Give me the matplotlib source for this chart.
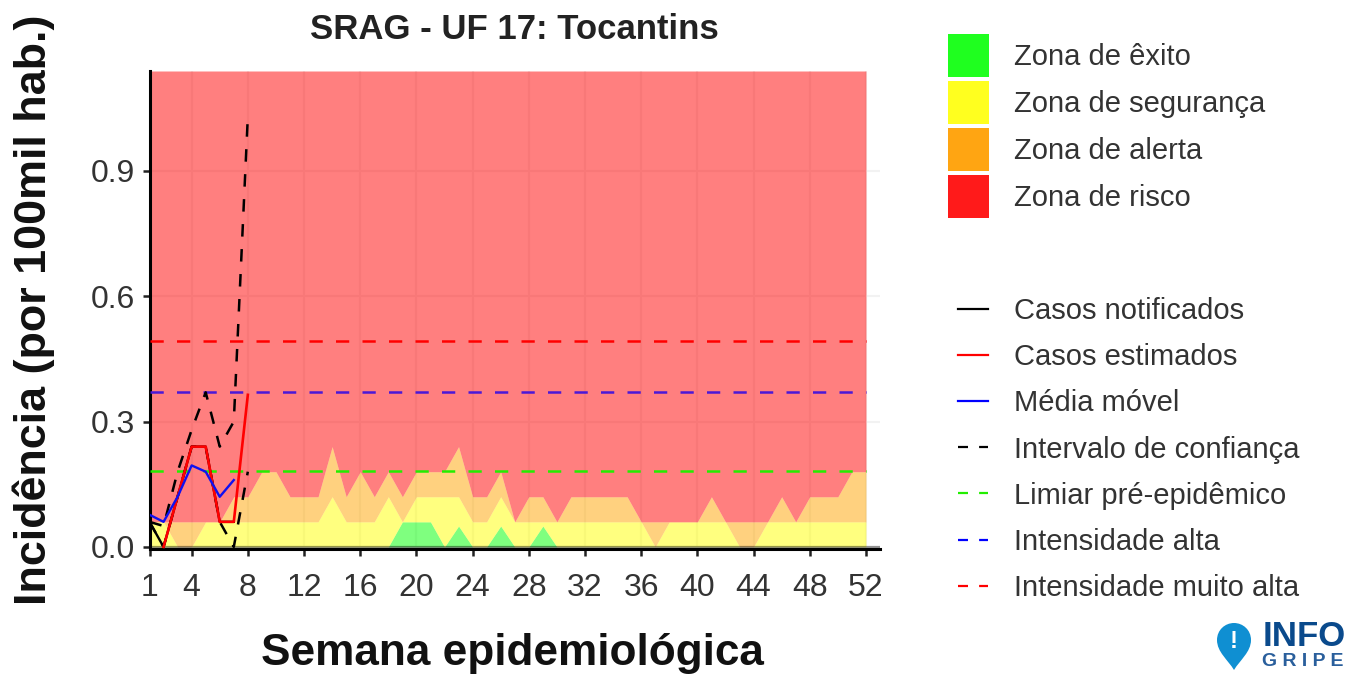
import numpy as np
import matplotlib
matplotlib.use("Agg")
import matplotlib.pyplot as plt
from matplotlib.lines import Line2D
from matplotlib.patches import Patch, PathPatch
from matplotlib.path import Path
from matplotlib.transforms import Affine2D

plt.rcParams['font.family'] = ['Liberation Sans', 'DejaVu Sans']

weeks = list(range(1, 53))
# upper edge of each zone, per week
zona_exito = [0,0,0,0,0,0,0,0,0,0,0,0,0,0,0,0,0,0,.06,.06,.06,0,.05,0,0,.05,0,0,.05,0,
              0,0,0,0,0,0,0,0,0,0,0,0,0,0,0,0,0,0,0,0,0,0]
zona_seguranca = [.06,.06,0,0,.06,.06,.06,.06,.06,.06,.06,.06,.06,.12,.06,.06,.06,.12,.06,.12,.12,.12,.12,.06,.06,.12,.06,.06,.06,.06,
                  .06,.06,.06,.06,.06,.06,0,.06,.06,.06,.06,.06,0,0,.06,.06,.06,.06,.06,.06,.06,.06]
zona_alerta = [.06,.06,.06,.06,.06,.06,.12,.12,.18,.18,.12,.12,.12,.24,.12,.18,.12,.18,.12,.18,.18,.18,.24,.12,.12,.18,.06,.12,.12,.06,
               .12,.12,.12,.12,.12,.06,.06,.06,.06,.06,.12,.06,.06,.06,.06,.12,.06,.12,.12,.12,.18,.18]

notificados = [.06, 0, .12, .24, .24, .06, .06]
estimados_w = [2, 3, 4, 5, 6, 7, 8]
estimados = [0, .12, .24, .24, .06, .06, .364]
media_movel = [.077, .06, .12, .195, .18, .12, .16]
ic_sup = [.06, .05, .18, .28, .37, .24, .30, 1.03]
ic_inf = [.06, 0, .12, .24, .24, .06, 0, .18]

limiar_pre = 0.182
intensidade_alta = 0.371
intensidade_muito_alta = 0.493

xticks = [1, 4, 8, 12, 16, 20, 24, 28, 32, 36, 40, 44, 48, 52]
yticks = [0, 0.3, 0.6, 0.9]
ymax = 1.139

W, H = 1356, 677
fig = plt.figure(figsize=(W / 100, H / 100), dpi=100)
ax = fig.add_axes([149.5 / W, 1 - 549 / H, 730.5 / W, 478 / H])
ax.set_xlim(1, 53)
ax.set_ylim(-0.005, ymax)

ax.grid(True, color='#f2f2f2', lw=1.5)
ax.set_axisbelow(True)

w = np.array(weeks)
ax.fill_between(w, 0, zona_exito, color='#00ff00', alpha=0.5, lw=0, zorder=1)
ax.fill_between(w, zona_exito, zona_seguranca, color='#ffff00', alpha=0.5, lw=0, zorder=1)
ax.fill_between(w, zona_seguranca, zona_alerta, color='#ffa500', alpha=0.5, lw=0, zorder=1)
ax.fill_between(w, zona_alerta, ymax, color='#ff0000', alpha=0.5, lw=0, zorder=1)
ax.plot([1, 53], [0, 0], color='black', alpha=0.4, lw=1.6, zorder=2)

dash = (0, (5.3, 5.3))
ax.plot([1, 52], [limiar_pre] * 2, color='#22ee00', lw=1.8, ls=dash, zorder=3)
ax.plot([1, 52], [intensidade_alta] * 2, color='#4a18d8', lw=1.8, ls=dash, zorder=3)
ax.plot([1, 52], [intensidade_muito_alta] * 2, color='red', lw=1.8, ls=dash, zorder=3)

ax.plot(weeks[:7], notificados, color='black', lw=1.7, zorder=4)
ax.plot(weeks[:8], ic_sup, color='black', lw=1.8, ls=(0, (5, 5)), zorder=4)
ax.plot(weeks[:8], ic_inf, color='black', lw=1.8, ls=(0, (5, 5)), zorder=4)
ax.plot(estimados_w, estimados, color='red', lw=1.9, zorder=5)
ax.plot(weeks[:7], media_movel, color='#1010f0', lw=1.7, zorder=6)

for s in ['top', 'right']:
    ax.spines[s].set_visible(False)
ax.spines['left'].set_linewidth(2.2)
ax.spines['bottom'].set_linewidth(2.2)
ax.set_xticks(xticks)
ax.set_yticks(yticks)
ax.set_yticklabels(['0.0', '0.3', '0.6', '0.9'])
ax.tick_params(length=5, width=1.8, labelsize=23, color='#222222', labelcolor='#333333')
ax.tick_params(axis='x', pad=12)
ax.tick_params(axis='y', pad=5.5)

ax.set_title('SRAG - UF 17: Tocantins', fontsize=25, fontweight='bold', color='#222222', y=1, pad=23)
ax.set_xlabel('Semana epidemiológica', fontsize=31.8, fontweight='bold', color='#111111')
ax.xaxis.set_label_coords(0.4965, -104 / 478, transform=ax.transAxes)
ax.xaxis.label.set_va('center')
ax.set_ylabel('Incidência (por 100mil hab.)', fontsize=32.3, fontweight='bold', color='#111111')
ax.yaxis.set_label_coords(-116 / 730.5, 0.5, transform=ax.transAxes)
ax.yaxis.label.set_va('center')

zonas = [Patch(color=c, label=l, lw=0) for c, l in [
    ('#1fff1f', 'Zona de êxito'), ('#ffff1f', 'Zona de segurança'),
    ('#ffa512', 'Zona de alerta'), ('#ff1a1a', 'Zona de risco')]]
fig.legend(handles=zonas, loc='upper left', bbox_to_anchor=(948 / W, 1 - 34 / H), frameon=False,
           fontsize=21, labelcolor='#333333', borderpad=0, borderaxespad=0, handlelength=1.4,
           handleheight=1.89, handletextpad=0.86, labelspacing=0.135)

linhas = [
    Line2D([], [], color='black', lw=1.6, label='Casos notificados'),
    Line2D([], [], color='red', lw=1.6, label='Casos estimados'),
    Line2D([], [], color='blue', lw=1.6, label='Média móvel'),
    Line2D([], [], color='black', lw=1.6, ls=(0, (4.5, 5)), label='Intervalo de confiança'),
    Line2D([], [], color='#22ee00', lw=1.6, ls=(0, (4.5, 5)), label='Limiar pré-epidêmico'),
    Line2D([], [], color='blue', lw=1.6, ls=(0, (4.5, 5)), label='Intensidade alta'),
    Line2D([], [], color='red', lw=1.6, ls=(0, (4.5, 5)), label='Intensidade muito alta'),
]
fig.legend(handles=linhas, loc='upper left', bbox_to_anchor=(958 / W, 1 - 297 / H), frameon=False,
           fontsize=21, labelcolor='#333333', borderpad=0, borderaxespad=0, handlelength=1.03,
           handletextpad=0.9, labelspacing=0.623)

# logo
px = Affine2D().scale(1, -1).translate(0, H)
verts = [(1234, 670), (1228, 660), (1217, 652), (1217, 640), (1217, 630), (1225, 623), (1234, 623),
         (1243, 623), (1251, 630), (1251, 640), (1251, 652), (1240, 660), (1234, 670), (1234, 670)]
codes = [Path.MOVETO] + [Path.CURVE4] * 12 + [Path.CLOSEPOLY]
fig.add_artist(PathPatch(Path(verts, codes), transform=px, fc='#0f8fd2', ec='none'))
fig.text(1234 / W, 1 - 641 / H, '!', fontsize=17, fontweight='bold', color='white', ha='center', va='center')
fig.text(1304 / W, 1 - 637 / H, 'INFO', fontsize=25, fontweight='bold', color='#0a4a8c', ha='center', va='center')
fig.text(1303 / W, 1 - 661 / H, 'G R I P E', fontsize=14, fontweight='bold', color='#2a5f9c', ha='center', va='center')

fig.savefig('out.png', dpi=100)
